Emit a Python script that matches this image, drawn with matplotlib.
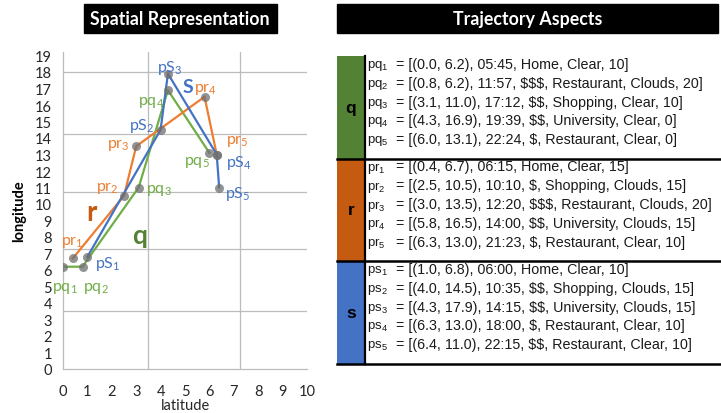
import numpy as np
import matplotlib
matplotlib.use("Agg")
from matplotlib import pyplot as plt
from matplotlib.patches import Rectangle

plt.rcParams["mathtext.default"] = "regular"

# trajectory points (latitude, longitude) and their aspects
traj_names = ["q", "r", "s"]
traj_lat = {
    "q": [0.0, 0.8, 3.1, 4.3, 6.0],
    "r": [0.4, 2.5, 3.0, 5.8, 6.3],
    "s": [1.0, 4.0, 4.3, 6.3, 6.4],
}
traj_lon = {
    "q": [6.2, 6.2, 11.0, 16.9, 13.1],
    "r": [6.7, 10.5, 13.5, 16.5, 13.0],
    "s": [6.8, 14.5, 17.9, 13.0, 11.0],
}
traj_times = {
    "q": ["05:45", "11:57", "17:12", "19:39", "22:24"],
    "r": ["06:15", "10:10", "12:20", "14:00", "21:23"],
    "s": ["06:00", "10:35", "14:15", "18:00", "22:15"],
}
traj_price = {
    "q": ["", "$$$", "$$", "$$", "$"],
    "r": ["", "$", "$$$", "$$", "$"],
    "s": ["", "$$", "$$", "$", "$$"],
}
traj_place = {
    "q": ["Home", "Restaurant", "Shopping", "University", "Restaurant"],
    "r": ["Home", "Shopping", "Restaurant", "University", "Restaurant"],
    "s": ["Home", "Shopping", "University", "Restaurant", "Restaurant"],
}
traj_weather = {
    "q": ["Clear", "Clouds", "Clear", "Clear", "Clear"],
    "r": ["Clear", "Clouds", "Clouds", "Clouds", "Clear"],
    "s": ["Clear", "Clouds", "Clouds", "Clear", "Clear"],
}
traj_value = {
    "q": [10, 20, 10, 0, 0],
    "r": [15, 15, 20, 15, 10],
    "s": [10, 15, 15, 10, 10],
}
chart_prefix = {"q": "pq", "r": "pr", "s": "pS"}
table_prefix = {"q": "pq", "r": "pr", "s": "ps"}

x_ticks = list(range(0, 11))
y_ticks = list(range(0, 20))

# styling
line_col = {"q": "#70ad47", "r": "#ed7d31", "s": "#4472c4"}
big_col = {"q": "#548235", "r": "#c55a11", "s": "#4472c4"}
cell_col = {"q": "#548235", "r": "#c55a11", "s": "#4472c4"}
# point label offsets in pixels
label_off = {
    "q": [(2, -21), (13, -21), (20, -2), (-17, -11), (-12, -9)],
    "r": [(0, 17), (-17, 8), (-18, 2), (1, 8), (21, 14)],
    "s": [(20, -6), (-19, 5), (2, 7), (22, -8), (19, -6)],
}
big_pos = {"q": (3.16, 8.1), "r": (1.18, 9.5), "s": (5.14, 17.1)}
big_text = {"q": "q", "r": "r", "s": "S"}
big_size = {"q": 19, "r": 20, "s": 14}

W, H = 721, 414
fig = plt.figure(figsize=(W / 100, H / 100), dpi=100)

# ---- spatial chart ----
ax = fig.add_axes([63 / W, 1 - 370 / H, 244 / W, 317 / H])
ax.set_xlim(0, 10)
ax.set_ylim(0, 317 / 16.5)
for v in [3.5, 7.25, 10.7, 14.25, 18.0]:
    ax.axhline(v, color="#bcbcbc", lw=0.9, zorder=0)
for v in [3.5, 7.25]:
    ax.axvline(v, color="#bcbcbc", lw=0.9, zorder=0)
for side in ["top", "right"]:
    ax.spines[side].set_visible(False)
for side in ["left", "bottom"]:
    ax.spines[side].set_color("#bcbcbc")
    ax.spines[side].set_linewidth(0.9)
ax.set_xticks(x_ticks)
ax.set_yticks(y_ticks)
ax.tick_params(length=0, labelsize=10.5, colors="#262626")
ax.tick_params(axis="x", pad=11)
ax.tick_params(axis="y", pad=8)
for lab in ax.get_xticklabels() + ax.get_yticklabels():
    lab.set_family("Lato")
ax.set_xlabel("latitude", family="Lato", fontsize=10.5, color="#262626", labelpad=0)
ax.set_ylabel("longitude", family="Lato", fontsize=10.5, fontweight="bold",
              color="#000000", labelpad=6)

for k in traj_names:
    ax.plot(traj_lat[k], traj_lon[k], color=line_col[k], lw=1.6, zorder=2)
for k in traj_names:
    ax.scatter(traj_lat[k], traj_lon[k], s=42, color="#6f6f6f", alpha=0.75,
               lw=0, zorder=3)
    for i, (x, y) in enumerate(zip(traj_lat[k], traj_lon[k])):
        ax.annotate(f"{chart_prefix[k]}$_{{{i + 1}}}$", (x, y),
                    xytext=label_off[k][i], textcoords="offset pixels",
                    ha="center", va="center", fontsize=11.5, family="Lato",
                    color=line_col[k], zorder=4)
    bx, by = big_pos[k]
    ax.text(bx, by, big_text[k], ha="center", va="center", fontsize=big_size[k],
            fontweight="bold", family="Lato", color=big_col[k])

# ---- overlay: titles and table ----
ov = fig.add_axes([0, 0, 1, 1])
ov.set_xlim(0, W)
ov.set_ylim(H, 0)
ov.axis("off")

ov.add_patch(Rectangle((84, 5), 193, 29, color="black"))
ov.text(180, 20, "Spatial Representation", ha="center", va="center",
        color="white", fontsize=12.8, fontweight="bold", family="Lato")
ov.add_patch(Rectangle((337, 5), 381, 29, color="black"))
ov.text(528, 20, "Trajectory Aspects", ha="center", va="center",
        color="white", fontsize=12.8, fontweight="bold", family="Lato")

top0 = 57
cell_h = 102.5
for g, k in enumerate(traj_names):
    top = top0 + g * cell_h
    ov.add_patch(Rectangle((337, top), 28, cell_h, color=cell_col[k], lw=0))
    ov.text(351, top + cell_h / 2, k, ha="center", va="center", fontsize=12.5,
            fontweight="bold", family="Liberation Sans", color="black")
    ov.plot([337, 721], [top + cell_h, top + cell_h], color="black", lw=1.8)
    for i in range(5):
        y = top + 8 + i * 18.8
        ov.text(367, y + 1, f"{table_prefix[k]}$_{{{i + 1}}}$", ha="left",
                va="center", fontsize=9.5, family="Liberation Sans",
                color="#1a1a1a")
        parts = [f"({traj_lat[k][i]:.1f}, {traj_lon[k][i]:.1f})", traj_times[k][i]]
        if traj_price[k][i]:
            parts.append(traj_price[k][i].replace("$", r"\$"))
        parts += [traj_place[k][i], traj_weather[k][i], str(traj_value[k][i])]
        ov.text(396, y, "= [" + ", ".join(parts) + "]", ha="left", va="center",
                fontsize=10.3, family="Liberation Sans", color="#1a1a1a")
ov.plot([365, 365], [top0, top0 + 3 * cell_h], color="black", lw=1.6)

fig.savefig("out.png", dpi=100)
